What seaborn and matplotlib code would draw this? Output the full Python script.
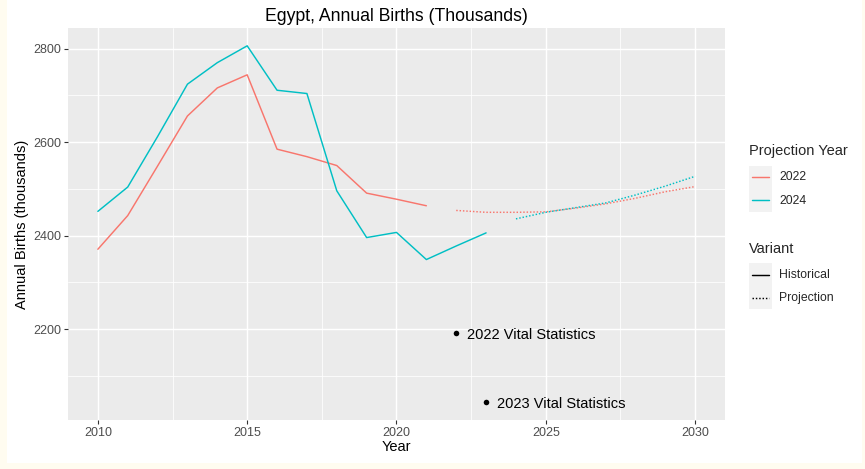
import matplotlib
matplotlib.use("Agg")
import matplotlib.pyplot as plt
from matplotlib.patches import Rectangle
from matplotlib.lines import Line2D
import seaborn as sns
import pandas as pd
import numpy as np

# ---------------- data ----------------
hist_years_2022 = [2010, 2011, 2012, 2013, 2014, 2015, 2016, 2017, 2018, 2019, 2020, 2021]
hist_births_2022 = [2371, 2443, 2549, 2656, 2716, 2744, 2585, 2569, 2550, 2491, 2478, 2464]
proj_years_2022 = [2022, 2023, 2024, 2025, 2026, 2027, 2028, 2029, 2030]
proj_births_2022 = [2454, 2450, 2450, 2451, 2459, 2468, 2480, 2494, 2505]

hist_years_2024 = [2010, 2011, 2012, 2013, 2014, 2015, 2016, 2017, 2018, 2019, 2020, 2021, 2022, 2023]
hist_births_2024 = [2452, 2504, 2612, 2724, 2770, 2806, 2711, 2704, 2496, 2396, 2407, 2349, 2378, 2406]
proj_years_2024 = [2024, 2025, 2026, 2027, 2028, 2029, 2030]
proj_births_2024 = [2436, 2450, 2460, 2470, 2487, 2506, 2527]

vital_years = [2022, 2023]
vital_births = [2191, 2044]
vital_labels = ["2022 Vital Statistics", "2023 Vital Statistics"]

projection_years = ["2022", "2024"]
variants = ["Historical", "Projection"]
colors = ["#F8766D", "#00BFC4"]

title = "Egypt, Annual Births (Thousands)"
xlabel = "Year"
ylabel = "Annual Births (thousands)"
x_major = [2010, 2015, 2020, 2025, 2030]
y_major = [2200, 2400, 2600, 2800]

# ---------------- build table ----------------
frames = []
for py, var, yrs, vals in [
    ("2022", "Historical", hist_years_2022, hist_births_2022),
    ("2022", "Projection", proj_years_2022, proj_births_2022),
    ("2024", "Historical", hist_years_2024, hist_births_2024),
    ("2024", "Projection", proj_years_2024, proj_births_2024),
]:
    frames.append(pd.DataFrame({"Year": yrs, "Births": vals,
                                "Projection Year": py, "Variant": var}))
df = pd.concat(frames, ignore_index=True)
vital = pd.DataFrame({"Year": vital_years, "Births": vital_births, "Label": vital_labels})

# ---------------- style ----------------
sns.set_style("darkgrid", {"axes.facecolor": "#EBEBEB", "grid.color": "white"})
plt.rcParams["font.family"] = ["Liberation Sans", "DejaVu Sans"]

W, H = 865, 469
fig = plt.figure(figsize=(W / 100, H / 100), dpi=100, facecolor="white")
ax = fig.add_axes([68 / W, 1 - 420 / H, (725 - 68) / W, (420 - 28) / H])

palette = dict(zip(projection_years, colors))
dash_spec = {"Historical": "", "Projection": (1, 1.3)}
sns.lineplot(data=df, x="Year", y="Births", hue="Projection Year", style="Variant",
             palette=palette, dashes=dash_spec, hue_order=projection_years,
             style_order=variants, linewidth=1.05, legend=False, ax=ax,
             estimator=None, sort=True)
sns.scatterplot(data=vital, x="Year", y="Births", color="black", s=16,
                edgecolor="black", linewidth=0, ax=ax, zorder=5)
for _, r in vital.iterrows():
    ax.annotate(r["Label"], (r["Year"], r["Births"]), xytext=(8, -1),
                textcoords="offset points", ha="left", va="center",
                fontsize=10.5, color="black")

# limits with ggplot-like 5% expansion
xmin, xmax = 2010, 2030
xr = xmax - xmin
ax.set_xlim(xmin - 0.05 * xr, xmax + 0.05 * xr)
allv = list(df["Births"]) + vital_births
ymin, ymax = min(allv), max(allv)
yr = ymax - ymin
ax.set_ylim(ymin - 0.05 * yr, ymax + 0.05 * yr)

ax.set_xticks(x_major)
ax.set_xticks([2012.5, 2017.5, 2022.5, 2027.5], minor=True)
ax.set_yticks(y_major)
ax.set_yticks([2100, 2300, 2500, 2700], minor=True)
ax.grid(which="major", color="white", linewidth=1.05)
ax.grid(which="minor", color="white", linewidth=0.55)
ax.set_axisbelow(True)
for s in ax.spines.values():
    s.set_visible(False)
ax.tick_params(axis="both", which="major", length=2.7, width=0.8, color="#333333",
               labelsize=9, labelcolor="#4D4D4D", pad=2, bottom=True, left=True)
ax.tick_params(axis="both", which="minor", length=0)

ax.set_xlabel(xlabel, fontsize=10.56, color="black", labelpad=1)
ax.set_ylabel(ylabel, fontsize=10.56, color="black", labelpad=3)
ax.set_title(title, fontsize=12.7, color="black", pad=5)

# ---------------- legend (ggplot style) ----------------
def fx(x):
    return x / W

def fy(y):
    return 1 - y / H

def legend_block(title_txt, title_y, box_top, entries):
    fig.text(fx(749), fy(title_y), title_txt, fontsize=10.56, ha="left", va="center")
    n = len(entries)
    fig.patches.append(Rectangle((fx(749), fy(box_top + 23 * n)), 23 / W, 23 * n / H,
                                 transform=fig.transFigure, facecolor="#F2F2F2",
                                 edgecolor="none", zorder=1))
    for i, (lab, col, ls) in enumerate(entries):
        yc = box_top + 11.5 + 23 * i
        fig.lines.append(Line2D([fx(752), fx(769)], [fy(yc), fy(yc)],
                                transform=fig.transFigure, color=col, linewidth=1.05,
                                linestyle=ls, zorder=2))
        fig.text(fx(779), fy(yc), lab, fontsize=8.8, ha="left", va="center")

legend_block("Projection Year", 151.5, 166,
             [(projection_years[0], colors[0], "-"), (projection_years[1], colors[1], "-")])
legend_block("Variant", 249, 263,
             [(variants[0], "black", "-"), (variants[1], "black", (0, (1, 1.3)))])

# cream screenshot border
cream = "#FFFCF0"
for (x0, y0, w, h) in [(0, 0, 7, H), (862, 0, 3, H), (0, 463, W, 6)]:
    fig.patches.append(Rectangle((fx(x0), fy(y0 + h)), w / W, h / H,
                                 transform=fig.transFigure, facecolor=cream,
                                 edgecolor="none", zorder=0))

fig.savefig("out.png", dpi=100, facecolor="white")
